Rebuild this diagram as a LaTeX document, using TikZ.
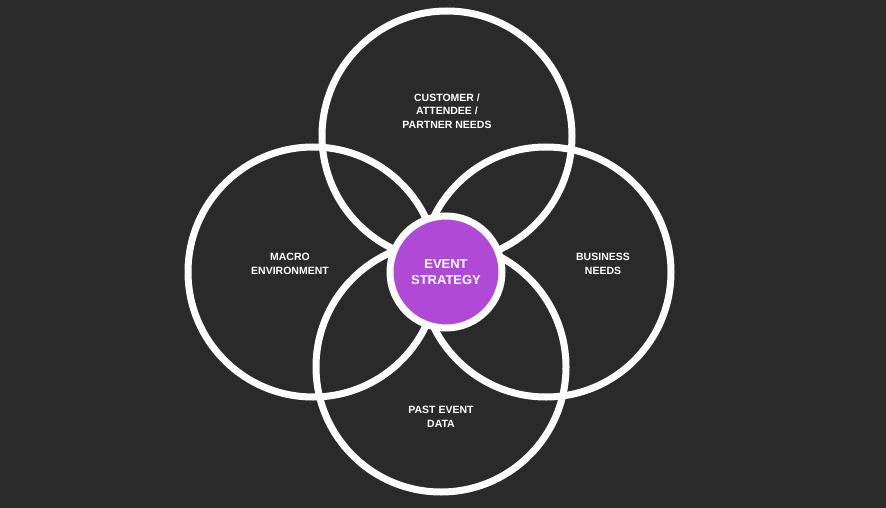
\documentclass[tikz,border=0pt]{standalone}
\usepackage{fontspec}
\setmainfont{Liberation Sans}
\definecolor{bgdark}{HTML}{2B2A2A}
\definecolor{strategy}{HTML}{B04AD6}
\begin{document}
\begin{tikzpicture}[x=1pt,y=-1pt,
    % 圆环样式
    ring/.style={circle, draw=white, line width=7pt, minimum size=250pt, inner sep=0pt},
    % 中心节点样式
    core/.style={circle, draw=white, line width=7pt, fill=strategy, minimum size=112pt, inner sep=0pt},
    % 文字样式
    label text/.style={text=white, font=\bfseries\fontsize{10.5}{13.5}\selectfont, align=center}
]
\fill[bgdark] (0,0) rectangle (886,508);
\useasboundingbox (0,0) rectangle (886,508);

% 四个圆环
\node[ring] (needs) at (447,136) {};
\node[ring] (macro) at (313,272) {};
\node[ring] (business) at (546,272) {};
\node[ring] (past) at (441,367) {};

% 中心
\node[core, label text, font=\bfseries\fontsize{13}{16}\selectfont] (strategy) at (446,272) {EVENT\\STRATEGY};

% 文字
\node[label text] (needslabel) at (447,111) {CUSTOMER /\\ATTENDEE /\\PARTNER NEEDS};
\node[label text] (macrolabel) at (290,264) {MACRO\\ENVIRONMENT};
\node[label text] (businesslabel) at (603,264) {BUSINESS\\NEEDS};
\node[label text] (pastlabel) at (441,417) {PAST EVENT\\DATA};
\end{tikzpicture}
\end{document}
